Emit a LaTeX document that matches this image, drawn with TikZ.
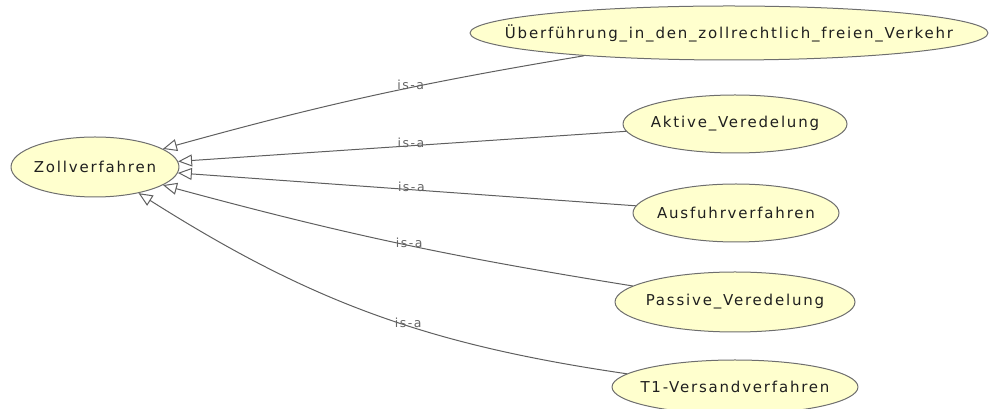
\documentclass[tikz,border=0pt]{standalone}
\usepackage{fontspec}
\newfontfamily\ogfont[LetterSpace=12]{DejaVu Sans}
\usetikzlibrary{shapes.geometric,arrows.meta}
\definecolor{clsfill}{RGB}{255,255,206}
\definecolor{clsline}{RGB}{110,110,110}
\definecolor{isaline}{RGB}{95,95,95}
\definecolor{isatext}{RGB}{100,100,100}
\newcommand{\clsname}[1]{\makebox[0pt]{#1}}

\begin{document}
\begin{tikzpicture}[x=1pt, y=1pt, line join=round, line cap=round,
    cls/.style={ellipse, draw=clsline, fill=clsfill, inner sep=0pt,
        line width=1pt, font=\ogfont\fontsize{15}{17}\selectfont,
        text=black!88},
    isa/.style={draw=isaline, line width=1pt,
        -{Triangle[open, length=14pt, width=12pt]}},
    lbl/.style={inner sep=0pt, text=isatext, yshift=3pt,
        font=\ogfont\fontsize{12.5}{14}\selectfont}]
    \useasboundingbox (0,0) rectangle (993,409);
    
    % classes
    \node[cls, minimum width=168pt, minimum height=60pt] (zoll) at (95,242)
        {\clsname{Zollverfahren}};
    \node[cls, minimum width=518pt, minimum height=54pt] (ueber) at (729,376)
        {\clsname{Überführung\_in\_den\_zollrechtlich\_freien\_Verkehr}};
    \node[cls, minimum width=224pt, minimum height=58pt] (aktiv) at (735,285)
        {\clsname{Aktive\_Veredelung}};
    \node[cls, minimum width=206pt, minimum height=58pt] (ausfuhr) at (736,196)
        {\clsname{Ausfuhrverfahren}};
    \node[cls, minimum width=240pt, minimum height=60pt] (passiv) at (735,107)
        {\clsname{Passive\_Veredelung}};
    \node[cls, minimum width=246pt, minimum height=54pt] (tversand) at (735,22)
        {\clsname{T1-Versandverfahren}};
    
    % is-a edges
    \draw[isa] (ueber) to[bend right=3] node[pos=.40, lbl]{is-a} (zoll);
    \draw[isa] (aktiv) -- node[pos=.48, lbl]{is-a} (zoll);
    \draw[isa] (ausfuhr) -- node[pos=.49, lbl]{is-a} (zoll);
    \draw[isa] (passiv) to[bend left=3] node[pos=.47, lbl]{is-a} (zoll);
    \draw[isa] (tversand) to[bend left=12] node[pos=.42, lbl]{is-a} (zoll);
\end{tikzpicture}
\end{document}
